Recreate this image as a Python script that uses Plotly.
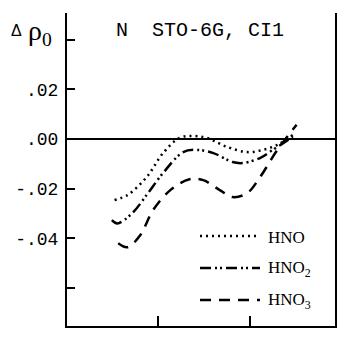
import plotly.graph_objects as go

# Data
x_hno = [0.52, 0.66, 0.87, 1.05, 1.23, 1.38, 1.53, 1.75, 1.97, 2.14, 2.30, 2.47]
y_hno = [-0.0246, -0.0226, -0.0154, -0.0057, 0.0004, 0.0012, 0.0004, -0.0032, -0.0053, -0.0044, -0.0024, 0.0016]

x_hno2 = [0.49, 0.55, 0.71, 0.87, 1.05, 1.27, 1.42, 1.60, 1.81, 1.92, 2.11, 2.25, 2.47]
y_hno2 = [-0.0327, -0.0340, -0.0300, -0.0226, -0.0137, -0.0053, -0.0044, -0.0057, -0.0093, -0.0097, -0.0077, -0.0044, 0.0008]

x_hno3 = [0.56, 0.66, 0.80, 0.94, 1.13, 1.34, 1.49, 1.67, 1.81, 1.97, 2.11, 2.30, 2.51]
y_hno3 = [-0.0420, -0.0436, -0.0388, -0.0287, -0.0206, -0.0162, -0.0166, -0.0206, -0.0234, -0.0218, -0.0154, -0.0044, 0.0057]

series_names = ["HNO", "HNO<sub>2</sub>", "HNO<sub>3</sub>"]
ytick_vals = [0.04, 0.02, 0.0, -0.02, -0.04, -0.06]
ytick_text = ["", ".02", ".00", "-.02", "-.04", ""]
xtick_vals = [1, 2]
title_text = "N  STO-6G, CI1"

dashes = ["2px,4px", "11px,4px,2px,3px,2px,4px", "11px,8px"]

fig = go.Figure()
for xs, ys, dash, name in zip([x_hno, x_hno2, x_hno3], [y_hno, y_hno2, y_hno3], dashes, series_names):
    fig.add_trace(go.Scatter(x=xs, y=ys, mode="lines", name=name,
                             line=dict(color="black", width=2.5, dash=dash, shape="spline", smoothing=1.0),
                             showlegend=False))

# page is drawn with an 8px body margin; compensate
OFF = 8
W, H = 348 - OFF, 341 - OFF
PL, PR, PT, PB = 67, 335, 13, 326  # plot area in page pixels
L, R, T, B = PL - OFF, 348 - PR, PT - OFF, 341 - PB


def px(x):
    return (x - PL) / (PR - PL)


def py(y):
    return (PB - y) / (PB - PT)


# Manual legend
legend_y = [236, 268, 300]
for yy, dash, name in zip(legend_y, dashes, series_names):
    fig.add_shape(type="line", xref="paper", yref="paper",
                  x0=px(200), x1=px(260), y0=py(yy), y1=py(yy),
                  line=dict(color="black", width=2.5, dash=dash))
    fig.add_annotation(xref="paper", yref="paper", x=px(266), y=py(yy + 1),
                       text=name, showarrow=False, xanchor="left", yanchor="middle",
                       font=dict(family="Liberation Serif", size=17, color="black"))

fig.add_annotation(xref="paper", yref="paper", x=px(114), y=py(31), text=title_text,
                   showarrow=False, xanchor="left", yanchor="middle",
                   font=dict(family="Liberation Mono", size=20, color="black"))

fig.add_annotation(xref="paper", yref="paper", x=px(16), y=py(31), text="Δ",
                   showarrow=False, xanchor="center", yanchor="middle", borderpad=0,
                   font=dict(family="Liberation Sans", size=16, color="black"))
fig.add_annotation(xref="paper", yref="paper", x=px(53), y=py(32),
                   text="ρ<sub>0</sub>", borderpad=0,
                   showarrow=False, xanchor="right", yanchor="middle",
                   font=dict(family="Liberation Serif", size=28, color="black"))

fig.update_layout(
    width=W, height=H,
    margin=dict(l=L, r=R, t=T, b=B),
    paper_bgcolor="white", plot_bgcolor="white",
    xaxis=dict(range=[0, 2.93], showgrid=False, zeroline=False, showline=True,
               linecolor="black", linewidth=2, ticks="inside", ticklen=10, tickwidth=2,
               tickcolor="black", tickvals=xtick_vals, showticklabels=False),
    yaxis=dict(range=[-0.0753, 0.0507], showgrid=False, zeroline=True, zerolinecolor="black",
               zerolinewidth=2, showline=True, mirror=True, linecolor="black", linewidth=2,
               ticks="inside", ticklen=8, tickwidth=2, tickcolor="black",
               tickvals=ytick_vals, ticktext=ytick_text, ticklabelstandoff=3,
               tickfont=dict(family="Liberation Mono", size=18, color="black")),
)

fig.write_html("out.html")
